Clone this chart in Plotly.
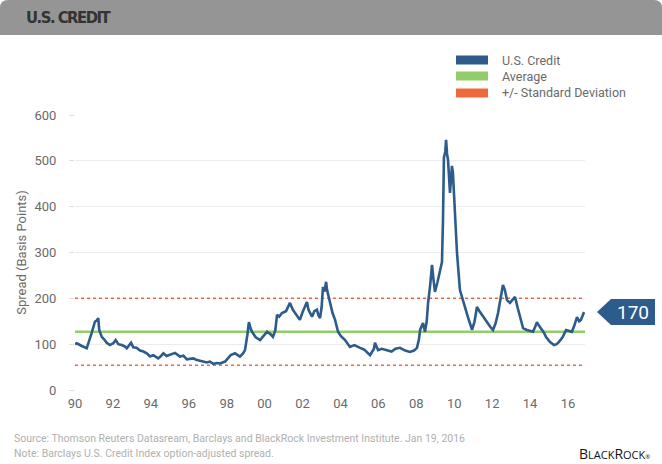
import plotly.graph_objects as go

# ---- data ----
years = [1990.0, 1990.09, 1990.35, 1990.6, 1990.85, 1991.02, 1991.12, 1991.19, 1991.24, 1991.37, 1991.5, 1991.62,
         1991.79, 1991.96, 1992.08, 1992.22, 1992.39, 1992.55, 1992.65, 1992.87, 1992.98, 1993.15, 1993.33,
         1993.5, 1993.67, 1993.84, 1994.01, 1994.26, 1994.4, 1994.52, 1994.69, 1994.9, 1995.12, 1995.37,
         1995.55, 1995.72, 1996.05, 1996.2, 1996.4, 1996.74, 1996.9, 1997.08, 1997.25, 1997.42, 1997.68,
         1997.85, 1997.97, 1998.19, 1998.44, 1998.6, 1998.7, 1998.82, 1998.9, 1998.98, 1999.06, 1999.25,
         1999.47, 1999.65, 1999.83, 2000.0, 2000.13, 2000.25, 2000.34, 2000.45, 2000.59, 2000.8, 2001.0,
         2001.15, 2001.3, 2001.51, 2001.65, 2001.77, 2001.87, 2001.95, 2002.05, 2002.13, 2002.25, 2002.38,
         2002.46, 2002.54, 2002.62, 2002.69, 2002.77, 2002.85, 2002.9, 2003.05, 2003.18, 2003.31, 2003.46,
         2003.6, 2003.82, 2004.07, 2004.3, 2004.59, 2004.8, 2005.1, 2005.3, 2005.35, 2005.51, 2005.7, 2005.97,
         2006.2, 2006.4, 2006.63, 2006.9, 2007.14, 2007.35, 2007.5, 2007.6, 2007.66, 2007.81, 2007.91,
         2008.0, 2008.07, 2008.18, 2008.27, 2008.35, 2008.42, 2008.55, 2008.68, 2008.78, 2008.83, 2008.88,
         2008.95, 2008.99, 2009.04, 2009.09, 2009.19, 2009.29, 2009.34, 2009.45, 2009.55, 2009.7, 2009.86,
         2010.0, 2010.11, 2010.2, 2010.32, 2010.45, 2010.57, 2010.7, 2010.83, 2010.95, 2011.08, 2011.25,
         2011.39, 2011.52, 2011.65, 2011.8, 2011.9, 2012.0, 2012.11, 2012.26, 2012.4, 2012.52, 2012.65,
         2012.77, 2012.93, 2013.13, 2013.3, 2013.44, 2013.55, 2013.64, 2013.75, 2013.85, 2014.0, 2014.1,
         2014.3, 2014.51, 2014.65, 2014.77, 2014.95, 2015.13, 2015.3, 2015.43, 2015.55, 2015.69, 2015.8,
         2015.89, 2016.05]
spread = [100, 102, 96, 91, 124, 149, 152, 157, 131, 116, 110, 103,
          98, 102, 109, 100, 98, 95, 91, 103, 93, 92, 86,
          84, 80, 73, 76, 69, 74, 80, 74, 77, 81, 73,
          75, 67, 69, 66, 64, 60, 62, 57, 59, 58, 62,
          69, 76, 80, 73, 80, 87, 120, 148, 135, 127, 115,
          109, 118, 127, 122, 116, 130, 164, 160, 168, 172, 190,
          175, 165, 153, 170, 181, 192, 175, 168, 160, 172, 175,
          163, 157, 180, 225, 215, 236, 218, 190, 168, 153, 127,
          118, 109, 94, 98, 92, 88, 76, 90, 103, 87, 90, 87,
          84, 90, 92, 86, 83, 86, 92, 110, 131, 146, 127,
          150, 190, 230, 273, 240, 214, 235, 258, 279, 365, 507,
          520, 546, 515, 502, 430, 489, 474, 378, 299, 218, 192,
          175, 159, 145, 131, 150, 181, 172, 164, 155, 146, 138,
          131, 145, 168, 200, 229, 218, 196, 190, 198, 203, 180,
          159, 135, 131, 128, 127, 138, 148, 140, 135, 125, 116,
          105, 98, 100, 105, 115, 131, 128, 127, 140, 159, 150,
          153, 170]

average = 127
std_dev = 73
tick_labels = ["90", "92", "94", "96", "98", "00", "02", "04", "06", "08", "10", "12", "14", "16"]
y_ticks = [0, 100, 200, 300, 400, 500, 600]
last_value = spread[-1]

# ---- layout geometry (pixels) ----
W, H = 662, 464
L, R, T, B = 75, 585, 115, 390
X0, X1 = 1990.0, 2016.1
label_pitch = (568 - L) / (R - L) * (X1 - X0) / (len(tick_labels) - 1)
tick_vals = [X0 + i * label_pitch for i in range(len(tick_labels))]


def px(x):
    return (x - L) / (R - L)


def py(y):
    return (B - y) / (B - T)


BLUE = "#2c5b8c"
GREEN = "#93cd6b"
ORANGE = "#ee6a3c"
FONT = "Roboto, Open Sans, sans-serif"

fig = go.Figure()
fig.add_trace(go.Scatter(x=[X0, X1], y=[average, average], mode="lines",
                         line=dict(color=GREEN, width=2.5), hoverinfo="skip", showlegend=False))
for v in (average + std_dev, average - std_dev):
    fig.add_trace(go.Scatter(x=[X0, X1 - 0.15], y=[v, v], mode="lines",
                             line=dict(color=ORANGE, width=1.5, dash="dot"), hoverinfo="skip",
                             showlegend=False))
fig.add_trace(go.Scatter(x=years, y=spread, mode="lines", line=dict(color=BLUE, width=2.6),
                         showlegend=False))

shapes = []
# header band with rounded top corners
r = 8
x_l, x_r, y_t, y_b = px(0), px(W), py(0), py(35)
rx = r / (R - L)
ry = r / (B - T)
shapes.append(dict(type="path", xref="paper", yref="paper", layer="below",
                   path=(f"M {x_l} {y_b} L {x_l} {y_t - ry} Q {x_l} {y_t} {x_l + rx} {y_t} "
                         f"L {x_r - rx} {y_t} Q {x_r} {y_t} {x_r} {y_t - ry} L {x_r} {y_b} Z"),
                   fillcolor="#959595", line=dict(width=0)))
# legend swatches
leg = [("U.S. Credit", BLUE, 60), ("Average", GREEN, 76), ("+/- Standard Deviation", ORANGE, 93)]
annotations = []
for name, col, yy in leg:
    shapes.append(dict(type="rect", xref="paper", yref="paper", x0=px(456), x1=px(488),
                       y0=py(yy + 4.5), y1=py(yy - 4.5), fillcolor=col, line=dict(width=0)))
    annotations.append(dict(text=name, xref="paper", yref="paper", x=px(500), y=py(yy),
                            xanchor="left", yanchor="middle", showarrow=False,
                            font=dict(family=FONT, size=12.5, color="#6a6a6a")))
# callout arrow
half = 13 / ((B - T) / 600)
shapes.append(dict(type="path", xref="paper", yref="y",
                   path=(f"M {px(597)} {last_value} L {px(611)} {last_value + half} "
                         f"L {px(655)} {last_value + half} L {px(655)} {last_value - half} "
                         f"L {px(611)} {last_value - half} Z"),
                   fillcolor=BLUE, line=dict(width=0)))
annotations.append(dict(text=str(last_value), xref="paper", yref="y", x=px(633), y=last_value,
                        xanchor="center", yanchor="middle", showarrow=False,
                        font=dict(family=FONT, size=19, color="white")))
# title
annotations.append(dict(text="<span style='font-stretch:condensed;letter-spacing:-1.5px'><b>U.S. CREDIT</b></span>",
                        xref="paper", yref="paper", x=px(24), y=py(18),
                        xanchor="left", yanchor="middle", showarrow=False,
                        font=dict(family="DejaVu Sans Condensed, DejaVu Sans, sans-serif",
                                  size=16.5, color="#333333")))
# footnotes
annotations.append(dict(text="Source: Thomson Reuters Datasream, Barclays and BlackRock Investment Institute. Jan 19, 2016",
                        xref="paper", yref="paper", x=px(12), y=py(438), xanchor="left", yanchor="middle",
                        showarrow=False, font=dict(family=FONT, size=10.5, color="#b0b0b0")))
annotations.append(dict(text="Note: Barclays U.S. Credit Index option-adjusted spread.",
                        xref="paper", yref="paper", x=px(12), y=py(453), xanchor="left", yanchor="middle",
                        showarrow=False, font=dict(family=FONT, size=10.5, color="#b0b0b0")))
annotations.append(dict(text=("B<span style='font-size:11px'>LACK</span>R<span style='font-size:11px'>OCK</span>"
                              "<span style='font-size:6px'>®</span>"),
                        xref="paper", yref="paper", x=px(652), y=py(453), xanchor="right", yanchor="middle",
                        showarrow=False, font=dict(family="Open Sans, sans-serif", size=14, color="#111111")))

fig.update_layout(
    width=W, height=H, autosize=False,
    margin=dict(l=L, r=W - R, t=T, b=H - B, pad=0),
    paper_bgcolor="white", plot_bgcolor="white",
    font=dict(family=FONT, color="#6a6a6a"),
    shapes=shapes, annotations=annotations, showlegend=False,
    xaxis=dict(range=[X0, X1], tickvals=tick_vals, ticktext=tick_labels, showgrid=False,
               zeroline=False, showline=False, ticks="", tickfont=dict(size=13, color="#6a6a6a"),
               ticklabelstandoff=4, fixedrange=True),
    yaxis=dict(range=[0, 600], tickvals=y_ticks, showgrid=True, gridcolor="#ececec", gridwidth=1,
               zeroline=False, showline=False, ticks="outside", ticklen=5, tickcolor="#dddddd",
               tickfont=dict(size=13, color="#6a6a6a"), ticklabelstandoff=10,
               title=dict(text="Spread (Basis Points)", font=dict(size=13, color="#6a6a6a"), standoff=4),
               fixedrange=True),
)

fig.write_html("out.html", config={"displayModeBar": False},
               post_script="document.body.style.margin='0';document.body.style.overflow='hidden';")
